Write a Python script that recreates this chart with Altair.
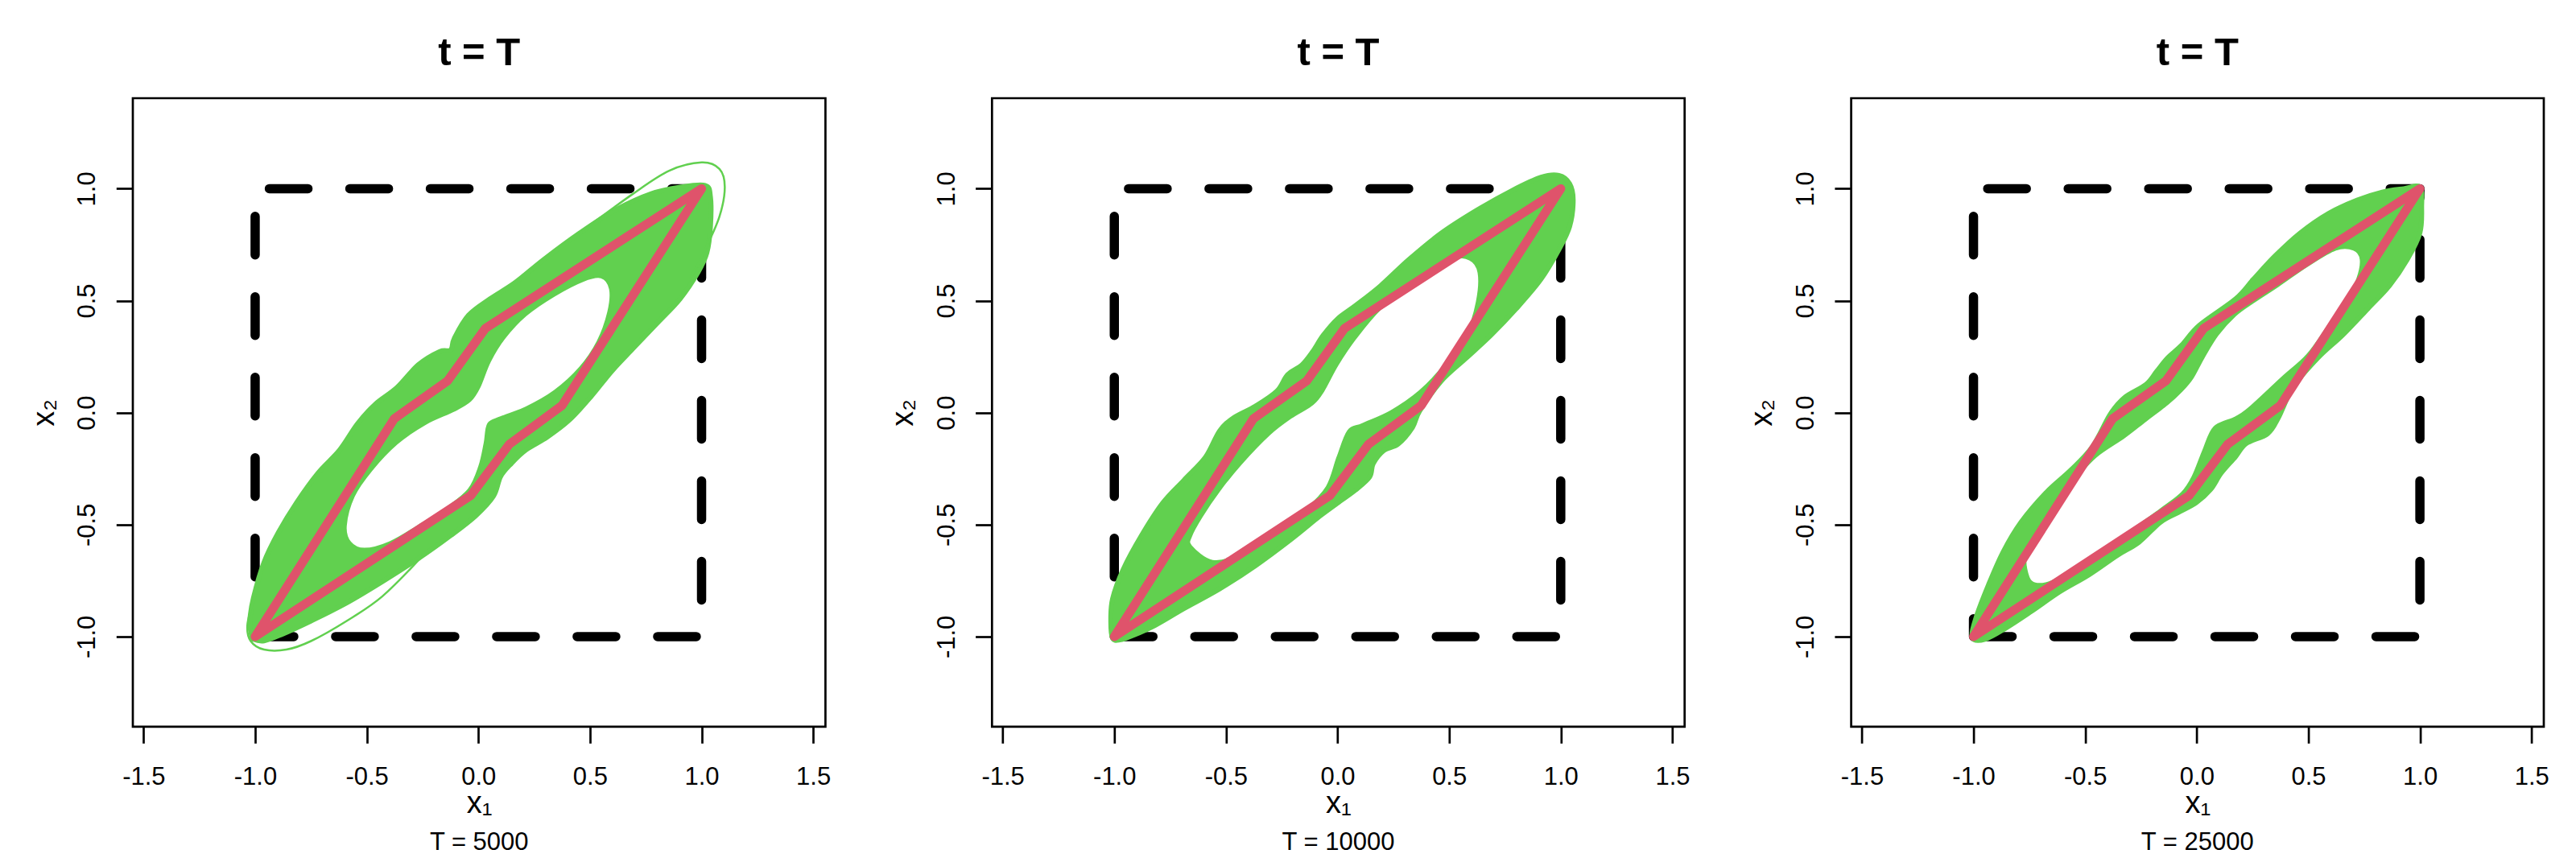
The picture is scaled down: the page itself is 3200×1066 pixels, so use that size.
import altair as alt
import pandas as pd

# ---------------- data ----------------
PANEL_TITLE = "t = T"
CAPTIONS = ["T = 5000", "T = 10000", "T = 25000"]

# red polygon (same in all three panels)
RED_X = [-1.0, -0.377, -0.138, 0.032, 1.0, 0.375, 0.138, -0.034, -1.0]
RED_Y = [-1.0, -0.027, 0.142, 0.377, 1.0, 0.032, -0.142, -0.370, -1.0]

# dashed square
BOX_X = [-1, 1, 1, -1, -1]
BOX_Y = [-1, -1, 1, 1, -1]

# panel 1 (T = 5000): outer envelope of the green curves (closed curve)
P1_OUTER_X = [-1.016, -1.024, -1.008, -0.960, -0.896, -0.815, -0.719, -0.622, -0.542, -0.462,
              -0.365, -0.269, -0.173, -0.124, -0.108, -0.044, 0.052, 0.165, 0.293, 0.454,
              0.614, 0.775, 0.904, 1.016, 1.040, 1.040, 1.024, 0.984, 0.904, 0.807,
              0.695, 0.598, 0.502, 0.406, 0.309, 0.213, 0.149, 0.100, 0.068, -0.012,
              -0.124, -0.269, -0.430, -0.590, -0.751, -0.880, -0.960, -1.008]
P1_OUTER_Y = [-0.997, -0.931, -0.828, -0.667, -0.535, -0.402, -0.270, -0.167, -0.050, 0.038,
              0.112, 0.214, 0.273, 0.280, 0.332, 0.435, 0.508, 0.581, 0.684, 0.802,
              0.905, 0.978, 1.007, 1.015, 0.963, 0.831, 0.714, 0.626, 0.508, 0.405,
              0.288, 0.185, 0.068, -0.035, -0.109, -0.167, -0.226, -0.285, -0.373, -0.461,
              -0.549, -0.652, -0.755, -0.850, -0.931, -0.990, -1.019, -1.012]
# panel 1: empty hole inside the band (closed curve)
P1_HOLE_X = [-0.594, -0.574, -0.510, -0.398, -0.269, -0.141, -0.044, 0.004, 0.028, 0.044,
             0.100, 0.213, 0.341, 0.454, 0.534, 0.582, 0.590, 0.550, 0.470, 0.341,
             0.213, 0.116, 0.052, 0.004, -0.036, -0.108, -0.237, -0.365, -0.478, -0.558]
P1_HOLE_Y = [-0.505, -0.579, -0.608, -0.579, -0.505, -0.424, -0.344, -0.241, -0.138, -0.050,
             -0.021, 0.023, 0.097, 0.200, 0.317, 0.449, 0.552, 0.604, 0.589, 0.523,
             0.435, 0.332, 0.229, 0.112, 0.053, 0.009, -0.050, -0.138, -0.256, -0.373]
# panel 1: stray outer curves
P1_ARC1_X = [0.45, 0.69, 0.855, 1.0, 1.08, 1.104, 1.08, 1.016, 0.95]
P1_ARC1_Y = [0.80, 0.975, 1.08, 1.117, 1.088, 1.007, 0.875, 0.728, 0.60]
P1_ARC2_X = [-0.25, -0.43, -0.59, -0.75, -0.86, -0.96, -1.02, -1.035, -1.01]
P1_ARC2_Y = [-0.64, -0.82, -0.93, -1.02, -1.058, -1.058, -1.02, -0.95, -0.85]

# panel 2 (T = 10000)
P2_OUTER_X = [-1.008, -1.016, -1.008, -0.960, -0.880, -0.784, -0.688, -0.592, -0.528, -0.464,
              -0.368, -0.272, -0.224, -0.160, -0.112, -0.064, 0.000, 0.080, 0.192, 0.320,
              0.464, 0.624, 0.784, 0.912, 0.992, 1.040, 1.056, 1.040, 0.992, 0.912,
              0.800, 0.688, 0.576, 0.464, 0.368, 0.336, 0.272, 0.208, 0.160, 0.144,
              0.080, 0.000, -0.080, -0.208, -0.368, -0.528, -0.688, -0.816, -0.912, -0.976]
P2_OUTER_Y = [-1.007, -0.934, -0.831, -0.699, -0.551, -0.404, -0.301, -0.199, -0.081, -0.022,
              0.029, 0.096, 0.169, 0.213, 0.272, 0.346, 0.419, 0.478, 0.566, 0.684,
              0.801, 0.904, 0.993, 1.051, 1.059, 1.022, 0.949, 0.831, 0.728, 0.596,
              0.463, 0.346, 0.243, 0.140, 0.007, -0.066, -0.140, -0.169, -0.228, -0.287,
              -0.346, -0.404, -0.463, -0.566, -0.684, -0.787, -0.875, -0.949, -0.993, -1.015]
P2_HOLE_X = [-0.656, -0.560, -0.432, -0.288, -0.144, -0.048, 0.000, 0.048, 0.112, 0.240,
             0.368, 0.480, 0.576, 0.624, 0.632, 0.592, 0.512, 0.352, 0.192, 0.080,
             0.000, -0.064, -0.112, -0.208, -0.304, -0.432, -0.528, -0.608, -0.656]
P2_HOLE_Y = [-0.596, -0.662, -0.632, -0.537, -0.434, -0.331, -0.199, -0.081, -0.051, 0.007,
             0.096, 0.213, 0.346, 0.493, 0.625, 0.684, 0.684, 0.596, 0.463, 0.331,
             0.213, 0.096, 0.037, -0.022, -0.096, -0.228, -0.346, -0.463, -0.551]

# panel 3 (T = 25000)
P3_OUTER_X = [-1.005, -0.989, -0.933, -0.868, -0.788, -0.676, -0.564, -0.468, -0.387, -0.323,
              -0.227, -0.179, -0.131, -0.067, 0.013, 0.174, 0.254, 0.350, 0.463, 0.591,
              0.719, 0.831, 0.928, 1.000, 1.008, 1.000, 0.944, 0.864, 0.767, 0.655,
              0.543, 0.431, 0.367, 0.318, 0.222, 0.174, 0.110, 0.062, -0.002, -0.083,
              -0.163, -0.259, -0.355, -0.484, -0.612, -0.740, -0.852, -0.949]
P3_OUTER_Y = [-1.004, -0.916, -0.769, -0.623, -0.490, -0.358, -0.256, -0.153, -0.006, 0.068,
              0.126, 0.185, 0.244, 0.302, 0.391, 0.508, 0.596, 0.699, 0.802, 0.890,
              0.949, 0.985, 1.000, 1.007, 0.919, 0.802, 0.684, 0.567, 0.464, 0.347,
              0.244, 0.112, -0.021, -0.094, -0.138, -0.197, -0.270, -0.344, -0.402, -0.446,
              -0.490, -0.579, -0.637, -0.725, -0.799, -0.887, -0.960, -1.012]
P3_HOLE_X = [-0.764, -0.740, -0.676, -0.596, -0.452, -0.307, -0.163, -0.067, -0.018, 0.030,
             0.078, 0.174, 0.238, 0.382, 0.495, 0.591, 0.671, 0.719, 0.735, 0.703,
             0.623, 0.495, 0.367, 0.254, 0.174, 0.094, 0.030, -0.018, -0.067, -0.131,
             -0.227, -0.323, -0.452, -0.548, -0.644, -0.724, -0.764]
P3_HOLE_Y = [-0.696, -0.755, -0.762, -0.725, -0.637, -0.535, -0.432, -0.358, -0.285, -0.167,
             -0.065, -0.021, 0.023, 0.156, 0.258, 0.391, 0.508, 0.596, 0.684, 0.728,
             0.728, 0.655, 0.567, 0.493, 0.435, 0.347, 0.244, 0.156, 0.097, 0.038,
             -0.035, -0.109, -0.197, -0.300, -0.417, -0.535, -0.637]

PANELS = [
    dict(outer=(P1_OUTER_X, P1_OUTER_Y), hole=(P1_HOLE_X, P1_HOLE_Y),
         arcs=[(P1_ARC1_X, P1_ARC1_Y), (P1_ARC2_X, P1_ARC2_Y)]),
    dict(outer=(P2_OUTER_X, P2_OUTER_Y), hole=(P2_HOLE_X, P2_HOLE_Y), arcs=[]),
    dict(outer=(P3_OUTER_X, P3_OUTER_Y), hole=(P3_HOLE_X, P3_HOLE_Y), arcs=[]),
]

X_TICKS = [-1.5, -1.0, -0.5, 0.0, 0.5, 1.0, 1.5]
Y_TICKS = [-1.0, -0.5, 0.0, 0.5, 1.0]
X_DOMAIN = [-1.548, 1.555]
Y_DOMAIN = [-1.402, 1.404]

# ---------------- styling ----------------
GREEN = "#61D04F"
RED = "#DF536B"
FONT = "Liberation Sans"
W, H = 860.4, 780.8

LABEL_EXPR = "(datum.value < 0 ? '-' : '') + format(abs(datum.value), '.1f')"

x_axis = alt.Axis(values=X_TICKS, labelExpr=LABEL_EXPR, grid=False, domain=False,
                  tickSize=20.5, tickWidth=2.7, tickColor="black",
                  labelFont=FONT, labelFontSize=31, labelColor="black", labelPadding=27,
                  labelFlush=False, labelOverlap=False,
                  title="x\u2081", titleFont=FONT, titleFontSize=38, titleFontWeight="normal",
                  titleColor="black", titleBaseline="alphabetic", titleAlign="center",
                  titleX=W / 2, titleY=106.7)
y_axis = alt.Axis(values=Y_TICKS, labelExpr=LABEL_EXPR, grid=False, domain=False,
                  tickSize=20.7, tickWidth=2.7, tickColor="black",
                  labelFont=FONT, labelFontSize=31, labelColor="black", labelPadding=26.6,
                  labelAngle=270, labelAlign="center", labelBaseline="alphabetic",
                  labelFlush=False, labelOverlap=False,
                  title="x\u2082", titleFont=FONT, titleFontSize=38, titleFontWeight="normal",
                  titleColor="black", titleBaseline="alphabetic", titleAlign="center",
                  titleAngle=270, titleX=-99, titleY=H / 2)

XS = alt.Scale(domain=X_DOMAIN, nice=False, zero=False)
YS = alt.Scale(domain=Y_DOMAIN, nice=False, zero=False)


def xy_df(xs, ys, group=0):
    return pd.DataFrame({"x": xs, "y": ys, "i": list(range(len(xs))), "g": group})


def enc(chart, detail=False):
    kw = dict(x=alt.X("x:Q", scale=XS, axis=x_axis),
              y=alt.Y("y:Q", scale=YS, axis=y_axis),
              order=alt.Order("i:Q"))
    if detail:
        kw["detail"] = "g:N"
    return chart.encode(**kw)


panels = []
for k, p in enumerate(PANELS):
    box = enc(alt.Chart(xy_df(BOX_X, BOX_Y)).mark_line(
        color="black", strokeWidth=11.5, strokeDash=[48, 52], strokeCap="round",
        strokeJoin="round"))
    outer = enc(alt.Chart(xy_df(*p["outer"])).mark_line(
        color=GREEN, fill=GREEN, strokeWidth=6, strokeJoin="round",
        interpolate="cardinal-closed"))
    hole = enc(alt.Chart(xy_df(*p["hole"])).mark_line(
        color=GREEN, fill="white", strokeWidth=2.5, strokeJoin="round",
        interpolate="cardinal-closed"))
    layers = [box, outer, hole]
    if p["arcs"]:
        arc_df = pd.concat([xy_df(ax, ay, g) for g, (ax, ay) in enumerate(p["arcs"])])
        arcs = enc(alt.Chart(arc_df).mark_line(color=GREEN, strokeWidth=2.5,
                                               interpolate="cardinal"), detail=True)
        layers.append(arcs)
    red = enc(alt.Chart(xy_df(RED_X, RED_Y)).mark_line(
        color=RED, strokeWidth=11, strokeJoin="round", strokeCap="round"))
    layers.append(red)
    cap = alt.Chart(pd.DataFrame({"t": [CAPTIONS[k]]})).mark_text(
        font=FONT, fontSize=31, color="black", baseline="alphabetic", align="center"
    ).encode(text="t:N", x=alt.value(W / 2), y=alt.value(934.5))
    layers.append(cap)
    chart = alt.layer(*layers).properties(
        width=W, height=H,
        title=alt.TitleParams(PANEL_TITLE, font=FONT, fontSize=49, fontWeight="bold",
                              color="black", anchor="middle", baseline="alphabetic",
                              offset=-8.5))
    panels.append(chart)

chart = alt.hconcat(*panels, spacing=206.3, bounds="flush").properties(
    padding={"left": 26, "top": 33, "right": 5, "bottom": 0},
    background="white",
).configure_view(stroke="black", strokeWidth=2.7)

chart.save("out.html", embed_options={"renderer": "svg", "actions": False})
